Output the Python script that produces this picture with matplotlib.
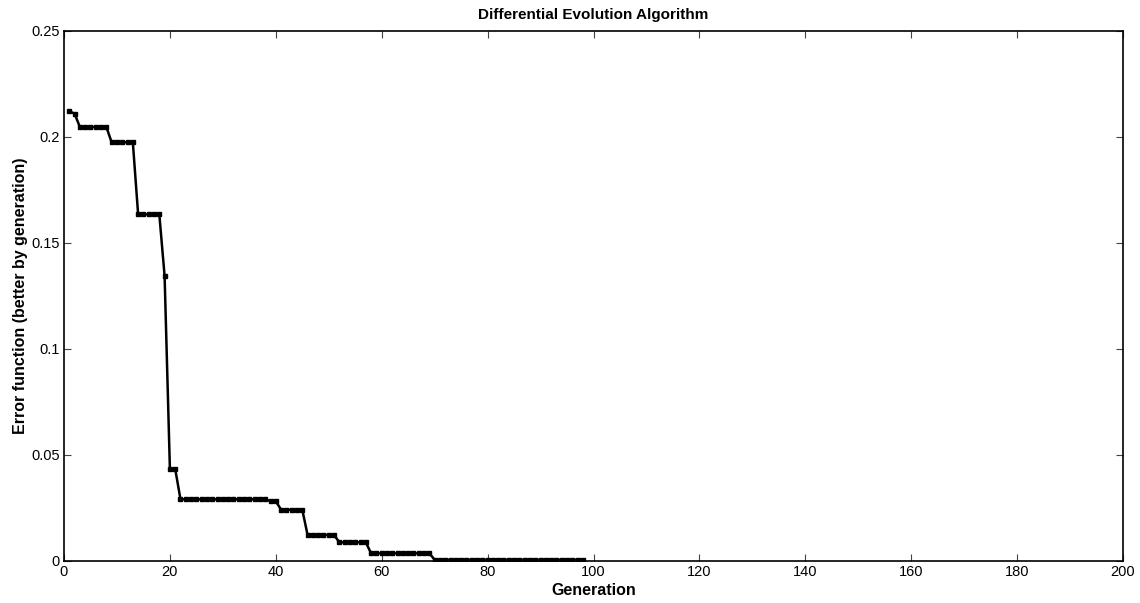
import matplotlib
matplotlib.use('Agg')
import matplotlib.pyplot as plt

# best error value per generation
generations = list(range(1, 99))
levels = [
    # (first generation, last generation, error value)
    (1, 1, 0.2122),
    (2, 2, 0.2110),
    (3, 8, 0.2047),
    (9, 13, 0.1975),
    (14, 18, 0.1635),
    (19, 19, 0.1344),
    (20, 21, 0.0434),
    (22, 38, 0.0291),
    (39, 40, 0.0282),
    (41, 45, 0.0242),
    (46, 51, 0.0123),
    (52, 57, 0.0088),
    (58, 69, 0.0036),
    (70, 98, 0.0006),
]
error = []
for start, stop, val in levels:
    error += [val] * (stop - start + 1)

xticks = list(range(0, 201, 20))
yticks = [0, 0.05, 0.1, 0.15, 0.2, 0.25]
ytick_labels = ['0', '0.05', '0.1', '0.15', '0.2', '0.25']

plt.rcParams['font.family'] = ['Liberation Sans', 'DejaVu Sans']

fig = plt.figure(figsize=(11.4, 6.03), dpi=100)
ax = fig.add_axes([64 / 1140, 1 - 561 / 603, (1123 - 64) / 1140, (561 - 31) / 603])

ax.plot(generations, error, color='black', linewidth=1.8,
        marker='s', markersize=3.2, markerfacecolor='black', markeredgecolor='black')

ax.set_xlim(0, 200)
ax.set_ylim(0, 0.25)
ax.set_xticks(xticks)
ax.set_yticks(yticks)
ax.set_yticklabels(ytick_labels)
ax.tick_params(direction='in', top=True, right=True, length=5, width=0.8,
               labelsize=10.5, color='#444444', pad=3)
for s in ax.spines.values():
    s.set_linewidth(1.2)

ax.set_title('Differential Evolution Algorithm', fontsize=11, fontweight='bold', pad=9)
ax.set_xlabel('Generation', fontsize=11.5, fontweight='bold', labelpad=3)
ax.set_ylabel('Error function (better by generation)', fontsize=11.5, fontweight='bold', labelpad=2)

fig.savefig('out.png', dpi=100)
plt.close(fig)
